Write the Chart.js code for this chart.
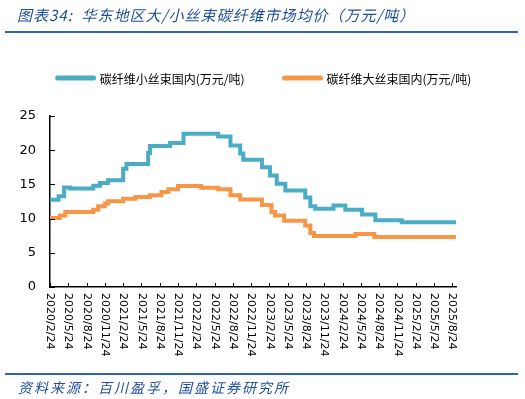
<!DOCTYPE html>
<html><head><meta charset="utf-8">
<script src="https://cdn.jsdelivr.net/npm/chart.js@4/dist/chart.umd.min.js"></script>
<style>
html,body{margin:0;padding:0;background:#fff;}
#wrap{position:relative;width:525px;height:399px;overflow:hidden;background:#fff;}
#cv{position:absolute;left:0;top:0;}
#title{position:absolute;left:17px;top:4px;font:italic 15px "Noto Sans CJK SC";letter-spacing:1px;color:#1f4e9a;white-space:nowrap;}
.rule{position:absolute;left:5px;width:513px;height:2px;background:#2e64b0;}
#src{position:absolute;left:18px;top:377px;font:italic 14px "Noto Sans CJK SC";letter-spacing:2px;color:#1f4e9a;white-space:nowrap;}
</style></head>
<body><div id="wrap">
<canvas id="cv" width="525" height="399"></canvas>
<div id="title">图表34:&nbsp; 华东地区大/小丝束碳纤维市场均价（万元/吨）</div>
<div class="rule" style="top:31px"></div>
<div class="rule" style="top:373px"></div>
<div id="src">资料来源：百川盈孚，国盛证券研究所</div>
</div>
<script>
const seriesNames = ['碳纤维小丝束国内(万元/吨)', '碳纤维大丝束国内(万元/吨)'];
const tickLabels = ['2020/2/24','2020/5/24','2020/8/24','2020/11/24','2021/2/24','2021/5/24','2021/8/24','2021/11/24','2022/2/24','2022/5/24','2022/8/24','2022/11/24','2023/2/24','2023/5/24','2023/8/24','2023/11/24','2024/2/24','2024/5/24','2024/8/24','2024/11/24','2025/2/24','2025/5/24','2025/8/24'];
const smallTowDates = ['2020-02-24','2020-04-06','2020-05-03','2020-06-03','2020-09-27','2020-10-30','2020-12-09','2021-02-24','2021-03-10','2021-06-27','2021-07-06','2021-10-15','2021-12-21','2022-06-11','2022-08-12','2022-09-30','2022-10-15','2023-01-17','2023-02-27','2023-03-30','2023-05-12','2023-08-20','2023-09-15','2023-10-09','2024-01-09','2024-03-07','2024-05-30','2024-08-05','2024-12-15','2025-09-12'];
const smallTowValues = [12.75,13.25,14.55,14.4,14.8,15.2,15.6,17.3,18.0,19.6,20.6,21.05,22.4,22.0,20.7,19.5,18.6,17.5,16.3,15.1,14.1,13.1,11.8,11.45,11.9,11.3,10.6,9.75,9.45,9.45];
const largeTowDates = ['2020-02-24','2020-04-12','2020-05-09','2020-09-27','2020-10-21','2020-11-24','2020-12-09','2021-02-24','2021-04-24','2021-07-06','2021-09-02','2021-10-06','2021-11-24','2022-03-18','2022-06-11','2022-08-12','2022-09-30','2023-01-17','2023-03-04','2023-03-21','2023-05-06','2023-08-20','2023-09-15','2023-10-03','2024-04-27','2024-07-30','2025-09-12'];
const largeTowValues = [10.1,10.45,10.95,11.3,11.8,12.2,12.55,12.9,13.15,13.4,13.9,14.3,14.75,14.5,14.3,13.4,12.8,12.0,10.95,10.45,9.7,9.0,7.9,7.45,7.75,7.3,7.3];

function monthsFromStart(s){
  const p = s.split(/[-\/]/).map(Number);
  return (p[0]-2020)*12 + (p[1]-2) + (p[2]-24)/30.44;
}
const tickMonths = tickLabels.map(monthsFromStart);
const toPts = (ds, vs) => ds.map((d,i)=>({x: monthsFromStart(d), y: vs[i]}));

const axisDecor = {
  id: 'axisDecor',
  afterDraw(chart){
    const {ctx, scales:{x, y}} = chart;
    ctx.save();
    ctx.strokeStyle = '#000'; ctx.lineWidth = 1;
    ctx.beginPath();
    tickMonths.forEach(m => {
      const px = Math.round(x.getPixelForValue(m)) + 0.5;
      ctx.moveTo(px, y.bottom); ctx.lineTo(px, y.bottom - 4);
    });
    y.ticks.forEach(t => {
      const py = Math.round(y.getPixelForValue(t.value)) + 0.5;
      ctx.moveTo(x.left, py); ctx.lineTo(x.left + 5, py);
    });
    ctx.stroke();
    ctx.fillStyle = '#000';
    ctx.font = '11px "DejaVu Sans"';
    ctx.textAlign = 'left'; ctx.textBaseline = 'middle';
    tickLabels.forEach((lab, i) => {
      const px = x.getPixelForValue(tickMonths[i]);
      ctx.save();
      ctx.translate(px, y.bottom + 6);
      ctx.rotate(Math.PI/2);
      ctx.fillText(lab, 0, 0);
      ctx.restore();
    });
    // legend
    ctx.font = '12px "Noto Sans CJK SC"';
    ctx.textBaseline = 'middle';
    const ds = chart.data.datasets;
    const widths = ds.map(d => 44 + ctx.measureText(d.label).width);
    const gap = 38;
    const total = widths.reduce((a,b)=>a+b,0) + gap*(ds.length-1);
    let cx = (chart.width - total)/2 + 1;
    const ly = 78;
    ds.forEach((d, i) => {
      ctx.strokeStyle = d.borderColor; ctx.lineWidth = 5; ctx.lineCap = 'round';
      ctx.beginPath(); ctx.moveTo(cx + 2, ly); ctx.lineTo(cx + 38, ly); ctx.stroke();
      ctx.fillStyle = '#000';
      ctx.fillText(d.label, cx + 44, ly + 1);
      cx += widths[i] + gap;
    });
    ctx.restore();
  }
};

new Chart(document.getElementById('cv'), {
  type: 'line',
  data: {
    datasets: [
      {label: seriesNames[0], data: toPts(smallTowDates, smallTowValues), borderColor: '#4bacc6', backgroundColor: '#4bacc6', borderWidth: 4, pointRadius: 0, stepped: 'before', fill: false},
      {label: seriesNames[1], data: toPts(largeTowDates, largeTowValues), borderColor: '#f79646', backgroundColor: '#f79646', borderWidth: 4, pointRadius: 0, stepped: 'before', fill: false}
    ]
  },
  options: {
    responsive: false,
    animation: false,
    devicePixelRatio: 1,
    layout: {padding: {top: 116, right: 69, left: 0, bottom: 0}},
    plugins: {
      legend: {display: false},
      tooltip: {enabled: false}
    },
    scales: {
      x: {
        type: 'linear', min: 0, max: 66.6,
        ticks: {display: false},
        grid: {display: false, drawTicks: false},
        border: {display: true, color: '#000', width: 1.5},
        afterFit: s => { s.height = 112; }
      },
      y: {
        min: 0, max: 25,
        ticks: {stepSize: 5, padding: 14, color: '#000', font: {family: '"DejaVu Sans"', size: 13}},
        grid: {drawOnChartArea: false, drawTicks: false},
        border: {display: true, color: '#000', width: 1.5},
        afterFit: s => { s.width = 50; }
      }
    }
  },
  plugins: [axisDecor]
});
</script>
</body></html>
